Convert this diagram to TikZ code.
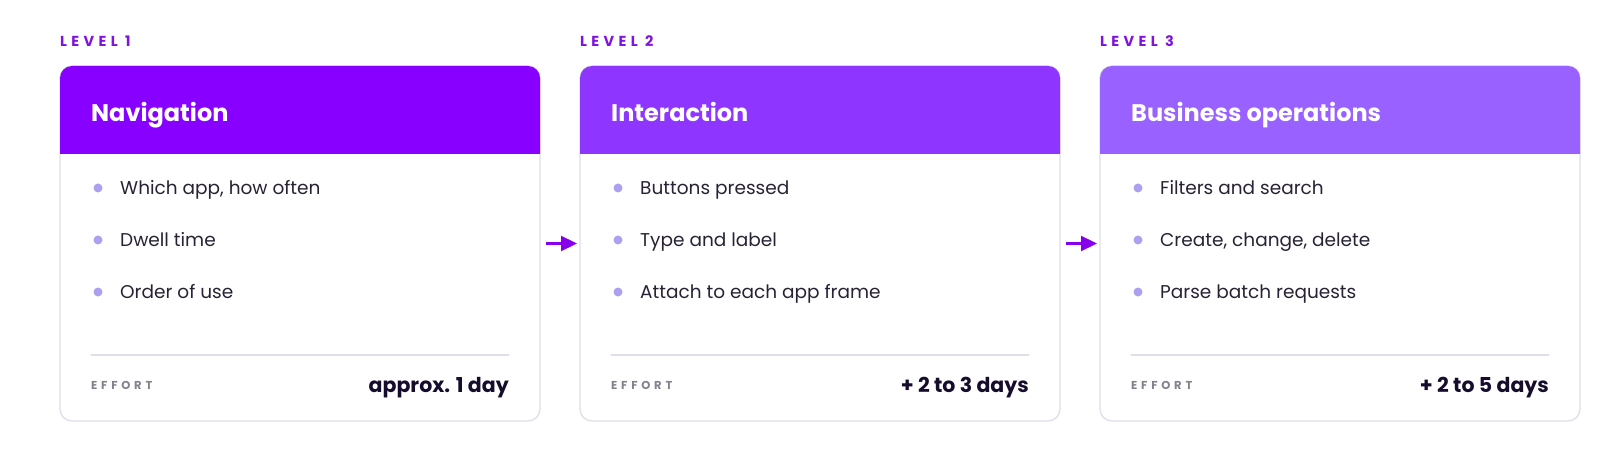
\documentclass[tikz,border=0pt]{standalone}
\usepackage{fontspec}
\setmainfont{Poppins}
\newfontfamily\lvlfont[LetterSpace=30]{Poppins}
\newfontfamily\efffont[LetterSpace=33]{Poppins}
\usetikzlibrary{arrows.meta}
\definecolor{hdA}{RGB}{136,0,255}
\definecolor{hdB}{RGB}{142,54,255}
\definecolor{hdC}{RGB}{153,97,255}
\definecolor{lvl}{RGB}{128,20,220}
\definecolor{bul}{RGB}{172,160,240}
\definecolor{cardline}{RGB}{224,222,232}
\definecolor{bodytxt}{RGB}{40,34,52}
\definecolor{valtxt}{RGB}{22,12,44}
\definecolor{efftxt}{RGB}{132,128,142}
\definecolor{arrcol}{RGB}{136,0,235}
\tikzset{
  cardbox/.style={draw=cardline, line width=1.3pt, fill=white, rounded corners=12pt, minimum width=480pt, minimum height=355pt, inner sep=0pt, outer sep=0pt},
  lvltext/.style={anchor=base west, inner sep=0pt, text=lvl, font=\lvlfont\bfseries\fontsize{14.5}{17}\selectfont},
  titletext/.style={anchor=base west, inner sep=0pt, text=white, font=\bfseries\fontsize{24}{28}\selectfont},
  itemtext/.style={anchor=base west, inner sep=0pt, text=bodytxt, font=\fontsize{18.5}{22}\selectfont},
  dot/.style={circle, fill=bul, minimum size=9pt, inner sep=0pt},
  efftext/.style={anchor=base west, inner sep=0pt, text=efftxt, font=\efffont\bfseries\fontsize{11.5}{13}\selectfont},
  valtext/.style={anchor=base east, inner sep=0pt, text=valtxt, font=\bfseries\fontsize{20.5}{24}\selectfont},
  divider/.style={draw=cardline, line width=1.3pt},
  flowarrow/.style={draw=arrcol, line width=2.2pt, -{Triangle[length=16pt,width=15pt]}}
}
\begin{document}
\begin{tikzpicture}[x=1pt,y=-1pt]
\useasboundingbox[fill=white] (0,0) rectangle (1600,462);
% cards
\foreach \i/\xl/\hc/\lv/\ttl/\ia/\ib/\ic/\val in {
  1/60/hdA/{LEVEL 1}/{Navigation}/{Which app, how often}/{Dwell time}/{Order of use}/{approx. 1 day},
  2/580/hdB/{LEVEL 2}/{Interaction}/{Buttons pressed}/{Type and label}/{Attach to each app frame}/{+ 2 to 3 days},
  3/1100/hdC/{LEVEL 3}/{Business operations}/{Filters and search}/{Create, change, delete}/{Parse batch requests}/{+ 2 to 5 days}}{
  \node[cardbox, anchor=north west] (c\i) at (\xl,66) {};
  \fill[\hc] (\xl,154) [rounded corners=12pt] -- (\xl,66) -- (\xl+480,66) [sharp corners] -- (\xl+480,154) -- cycle;
  \node[lvltext] (l\i) at (\xl,46.5) {\lv};
  \node[titletext] (t\i) at (\xl+31,122) {\ttl};
  \node[dot] (da\i) at (\xl+38,188) {};
  \node[dot] (db\i) at (\xl+38,240) {};
  \node[dot] (dc\i) at (\xl+38,292) {};
  \node[itemtext] (ia\i) at (\xl+60,194.5) {\ia};
  \node[itemtext] (ib\i) at (\xl+60,246.5) {\ib};
  \node[itemtext] (ic\i) at (\xl+60,298.5) {\ic};
  \coordinate (ds\i) at (\xl+31,355);
  \coordinate (de\i) at (\xl+449,355);
  \draw[divider] (ds\i) -- (de\i);
  \node[efftext] (e\i) at (\xl+31,389) {EFFORT};
  \node[valtext] (v\i) at (\xl+449,392) {\val};
}
\draw[flowarrow] ([xshift=6pt]c1.east) -- ([xshift=-3pt]c2.west);
\draw[flowarrow] ([xshift=6pt]c2.east) -- ([xshift=-3pt]c3.west);
\end{tikzpicture}
\end{document}
